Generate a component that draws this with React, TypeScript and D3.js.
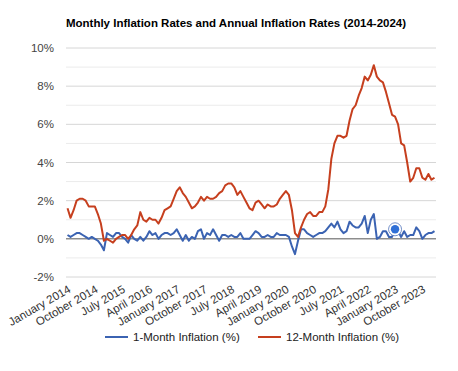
import React from 'react'
import * as d3 from 'd3'

// categories
const monthNames = ['January', 'February', 'March', 'April', 'May', 'June', 'July',
    'August', 'September', 'October', 'November', 'December']
const years = [2014, 2015, 2016, 2017, 2018, 2019, 2020, 2021, 2022, 2023, 2024]
const months = years.flatMap(y => monthNames.map(m => `${m} ${y}`)).slice(0, 122)

// x tick labels (every 9th month)
const tickLabels = ['January 2014', 'October 2014', 'July 2015', 'April 2016', 'January 2017',
    'October 2017', 'July 2018', 'April 2019', 'January 2020', 'October 2020', 'July 2021',
    'April 2022', 'January 2023', 'October 2023']

// 1-month inflation (%)
const monthly = [
    0.2, 0.1, 0.2, 0.3, 0.3, 0.2, 0.1, 0.0, 0.1, 0.0, -0.1, -0.3,
    -0.6, 0.3, 0.2, 0.1, 0.3, 0.3, 0.1, 0.0, -0.2, 0.2, 0.0, -0.1,
    0.1, -0.1, 0.1, 0.4, 0.2, 0.3, 0.0, 0.2, 0.3, 0.3, 0.2, 0.3,
    0.5, 0.2, -0.1, 0.2, -0.1, 0.1, 0.0, 0.4, 0.5, 0.0, 0.3, 0.2,
    0.5, 0.2, -0.1, 0.2, 0.2, 0.1, 0.2, 0.1, 0.1, 0.3, 0.0, 0.0,
    0.0, 0.2, 0.4, 0.3, 0.1, 0.1, 0.2, 0.1, 0.1, 0.3, 0.2, 0.2,
    0.2, 0.1, -0.4, -0.8, -0.1, 0.5, 0.5, 0.3, 0.2, 0.1, 0.2, 0.3,
    0.3, 0.4, 0.6, 0.8, 0.6, 0.9, 0.5, 0.3, 0.4, 0.9, 0.7, 0.6,
    0.6, 0.8, 1.2, 0.3, 1.0, 1.3, 0.0, 0.1, 0.4, 0.4, 0.1, 0.1,
    0.5, 0.4, 0.1, 0.4, 0.1, 0.2, 0.2, 0.6, 0.4, 0.0, 0.2, 0.3,
    0.3, 0.4
]

// 12-month inflation (%)
const annual = [
    1.6, 1.1, 1.5, 2.0, 2.1, 2.1, 2.0, 1.7, 1.7, 1.7, 1.3, 0.8,
    -0.1, 0.0, -0.1, -0.2, 0.0, 0.1, 0.2, 0.2, 0.0, 0.2, 0.5, 0.7,
    1.4, 1.0, 0.9, 1.1, 1.0, 1.0, 0.8, 1.1, 1.5, 1.6, 1.7, 2.1,
    2.5, 2.7, 2.4, 2.2, 1.9, 1.6, 1.7, 1.9, 2.2, 2.0, 2.2, 2.1,
    2.1, 2.2, 2.4, 2.5, 2.8, 2.9, 2.9, 2.7, 2.3, 2.5, 2.2, 1.9,
    1.6, 1.5, 1.9, 2.0, 1.8, 1.6, 1.8, 1.7, 1.7, 1.8, 2.1, 2.3,
    2.5, 2.3, 1.5, 0.3, 0.1, 0.6, 1.0, 1.3, 1.4, 1.2, 1.2, 1.4,
    1.4, 1.7, 2.6, 4.2, 5.0, 5.4, 5.4, 5.3, 5.4, 6.2, 6.8, 7.0,
    7.5, 7.9, 8.5, 8.3, 8.6, 9.1, 8.5, 8.3, 8.2, 7.7, 7.1, 6.5,
    6.4, 6.0, 5.0, 4.9, 4.0, 3.0, 3.2, 3.7, 3.7, 3.2, 3.1, 3.4,
    3.1, 3.2
]

const yTicks = [-2, 0, 2, 4, 6, 8, 10]
const yMinorTicks = [-1, 1, 3, 5, 7, 9]
const seriesNames = ['1-Month Inflation (%)', '12-Month Inflation (%)']
const highlightMonth = 'January 2023'

const font = '"Liberation Sans", Arial, sans-serif'

export default function App() {
    // dimensions
    const width = 458
    const height = 371
    const margin = {top: 48, right: 22, bottom: 94, left: 66}

    const x = d3.scalePoint<string>()
        .domain(months)
        .range([margin.left, width - margin.right])
        .padding(0.5)

    const y = d3.scaleLinear()
        .domain([-2, 10])
        .range([height - margin.bottom, margin.top])

    const line = d3.line<number>()
        .x((d, i) => x(months[i]) as number)
        .y(d => y(d))

    const blue = '#3b63b2'
    const red = '#c63f1e'

    const hi = months.indexOf(highlightMonth)

    return (
        <div style={{position: 'absolute', left: 0, top: 0}}>
            <svg width={width} height={height} style={{display: 'block', background: '#fff'}}>
                <text x={236} y={27} textAnchor="middle" fontFamily={font} fontWeight="bold"
                    fontSize={11.5} fill="#000">
                    Monthly Inflation Rates and Annual Inflation Rates (2014-2024)
                </text>

                {/* gridlines */}
                {yMinorTicks.map(t => (
                    <line key={'m' + t} x1={margin.left} x2={width - margin.right}
                        y1={y(t)} y2={y(t)} stroke="#ebebeb" strokeWidth={1} />
                ))}
                {yTicks.map(t => (
                    <line key={'g' + t} x1={margin.left} x2={width - margin.right}
                        y1={y(t)} y2={y(t)} stroke={t === 0 ? '#555' : '#d6d6d6'} strokeWidth={1} />
                ))}

                {/* y axis labels */}
                {yTicks.map(t => (
                    <text key={'l' + t} x={54} y={y(t)} dy="0.35em" textAnchor="end"
                        fontFamily={font} fontSize={11.5} fill="#444">{t}%</text>
                ))}

                {/* x axis labels */}
                {tickLabels.map(l => (
                    <text key={l} transform={`translate(${(x(l) as number) + 2}, 288) rotate(-30)`}
                        dy="0.35em" textAnchor="end" fontFamily={font} fontSize={11.5} fill="#333">{l}</text>
                ))}

                {/* lines */}
                <path d={line(monthly) || ''} fill="none" stroke={blue} strokeWidth={2} strokeLinejoin="round" />
                <path d={line(annual) || ''} fill="none" stroke={red} strokeWidth={2} strokeLinejoin="round" />

                {/* focused point */}
                <circle cx={x(highlightMonth)} cy={y(monthly[hi])} r={6.5} fill="#fff"
                    stroke={blue} strokeOpacity={0.7} strokeWidth={1} />
                <circle cx={x(highlightMonth)} cy={y(monthly[hi])} r={4.2} fill="#2f6fd6" />

                {/* legend */}
                <line x1={105} x2={128} y1={337} y2={337} stroke={blue} strokeWidth={2} />
                <text x={133} y={341} fontFamily={font} fontSize={11.5} fill="#222">{seriesNames[0]}</text>
                <line x1={258} x2={281} y1={337} y2={337} stroke={red} strokeWidth={2} />
                <text x={286} y={341} fontFamily={font} fontSize={11.5} fill="#222">{seriesNames[1]}</text>
            </svg>
        </div>
    )
}
